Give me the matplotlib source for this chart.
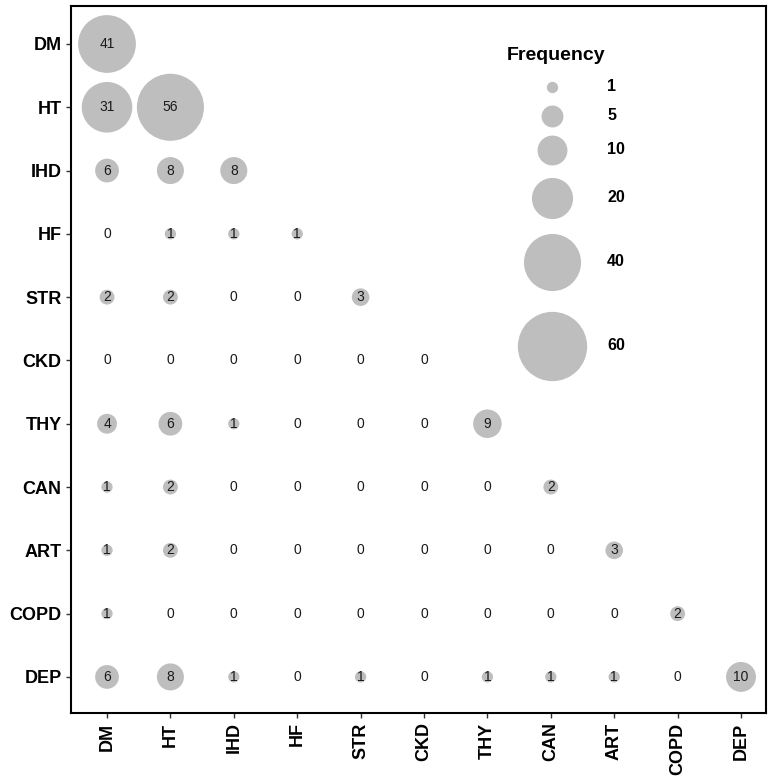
import numpy as np
import matplotlib
matplotlib.use("Agg")
import matplotlib.pyplot as plt

# ---------- data ---------- #
conditions = ["DM", "HT", "IHD", "HF", "STR", "CKD", "THY", "CAN", "ART", "COPD", "DEP"]
row_dm   = [41]
row_ht   = [31, 56]
row_ihd  = [6, 8, 8]
row_hf   = [0, 1, 1, 1]
row_str  = [2, 2, 0, 0, 3]
row_ckd  = [0, 0, 0, 0, 0, 0]
row_thy  = [4, 6, 1, 0, 0, 0, 9]
row_can  = [1, 2, 0, 0, 0, 0, 0, 2]
row_art  = [1, 2, 0, 0, 0, 0, 0, 0, 3]
row_copd = [1, 0, 0, 0, 0, 0, 0, 0, 0, 2]
row_dep  = [6, 8, 1, 0, 1, 0, 1, 1, 1, 0, 10]
rows = [row_dm, row_ht, row_ihd, row_hf, row_str, row_ckd,
        row_thy, row_can, row_art, row_copd, row_dep]
legend_breaks = [1, 5, 10, 20, 40, 60]

plt.rcParams["font.family"] = ["Liberation Sans", "DejaVu Sans"]

def size_of(v):
    # area scale, diameter in px -> marker area in pt^2
    v = np.asarray(v, dtype=float)
    d = np.where(v > 0, 8.6 * np.sqrt(v) + 2.7, 0.0)
    return (d * 0.72) ** 2

xs, ys, vs = [], [], []
for i, r in enumerate(rows):
    for j, v in enumerate(r):
        xs.append(j); ys.append(i); vs.append(v)

W, H = 769, 778
fig = plt.figure(figsize=(W / 100, H / 100), dpi=100)
ax = fig.add_axes([71 / W, 1 - 713 / H, (766 - 71) / W, (713 - 6) / H])

ax.scatter(xs, ys, s=size_of(vs), color="#bebebe", linewidths=0, zorder=2)
for x, y, v in zip(xs, ys, vs):
    ax.text(x, y, str(v), ha="center", va="center", fontsize=10,
            color="#1a1a1a", zorder=3)

ax.set_xlim(-0.568, 10.394)
ax.set_ylim(10.57, -0.6)
ax.set_xticks(range(len(conditions)))
ax.set_xticklabels(conditions, rotation=90, fontsize=13, fontweight="bold")
ax.set_yticks(range(len(conditions)))
ax.set_yticklabels(conditions, fontsize=13, fontweight="bold")
ax.tick_params(length=3.6, width=1, color="#333333", pad=3.2)
for sp in ax.spines.values():
    sp.set_linewidth(1.5)
    sp.set_color("black")

# ---------- size legend ---------- #
fig.text(507 / W, 1 - 56 / H, "Frequency", fontsize=14, fontweight="bold",
         ha="left", va="center")
key_y = [86.7, 116, 150, 197.7, 261.7, 345.7]
for b, yk in zip(legend_breaks, key_y):
    fig.add_artist(plt.Line2D([552 / W], [1 - yk / H], marker="o", linestyle="none",
                              markersize=float(np.sqrt(size_of(b))),
                              markerfacecolor="#bebebe", markeredgewidth=0,
                              transform=fig.transFigure))
    fig.text(607 / W, 1 - yk / H, str(b), fontsize=11.5, fontweight="bold",
             ha="left", va="center")

fig.savefig("out.png", dpi=100)
